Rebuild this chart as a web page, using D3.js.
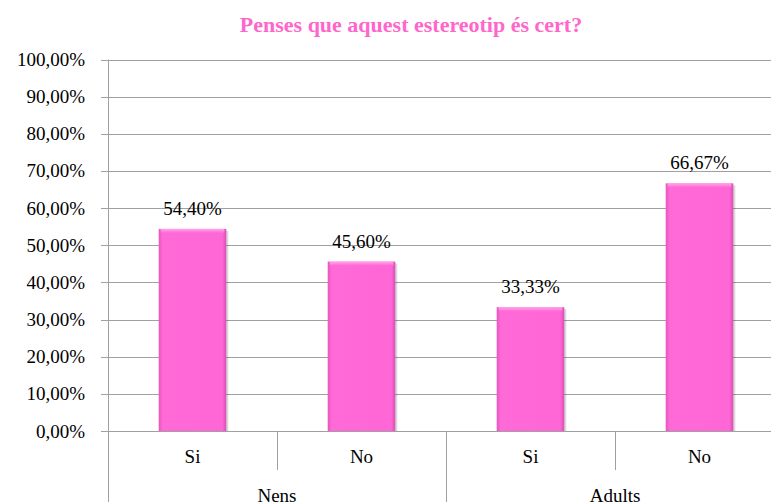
<!DOCTYPE html>
<html>
<head>
<meta charset="utf-8">
<script src="https://cdn.jsdelivr.net/npm/d3@7"></script>
</head>
<body style="margin:0">
<svg id="chart" width="771" height="502"></svg>
<script>
const title = "Penses que aquest estereotip és cert?";
const groups = ["Nens", "Adults"];
const answers = ["Si", "No"];
const values = [0.5440, 0.4560, 0.3333, 0.6667];
const valueLabels = ["54,40%", "45,60%", "33,33%", "66,67%"];
const yTicks = [0, 0.1, 0.2, 0.3, 0.4, 0.5, 0.6, 0.7, 0.8, 0.9, 1.0];
const yTickLabels = ["0,00%", "10,00%", "20,00%", "30,00%", "40,00%", "50,00%", "60,00%", "70,00%", "80,00%", "90,00%", "100,00%"];

const W = 771, H = 502;
const mLeft = 108, mRight = 784, mTop = 59.5, mBottom = 431;
const gridColor = "#a0a0a0";
const FONT = '"Liberation Serif"';

const svg = d3.select("#chart").style("font-family", FONT);
const defs = svg.append("defs");

const gH = defs.append("linearGradient").attr("id", "barH").attr("x1", 0).attr("x2", 1).attr("y1", 0).attr("y2", 0);
[[0, "#e655bd"], [0.06, "#ff6ad7"], [0.94, "#ff66d6"], [1, "#d94fb3"]].forEach(([o, c]) =>
  gH.append("stop").attr("offset", o).attr("stop-color", c));
const gV = defs.append("linearGradient").attr("id", "barTop").attr("x1", 0).attr("x2", 0).attr("y1", 0).attr("y2", 1);
[[0, "#ffa6ea"], [1, "#ff6ad7"]].forEach(([o, c]) =>
  gV.append("stop").attr("offset", o).attr("stop-color", c));

const keys = [];
groups.forEach(g => answers.forEach(a => keys.push(g + "|" + a)));

const x = d3.scaleBand().domain(keys).range([mLeft, mRight]).padding(0);
const xg = d3.scaleBand().domain(groups).range([mLeft, mRight]).padding(0);
const y = d3.scaleLinear().domain([0, 1]).range([mBottom, mTop]);
const barW = x.bandwidth() / 2.5;

svg.append("text")
  .attr("x", 411).attr("y", 32)
  .attr("text-anchor", "middle")
  .style("font-family", FONT)
  .style("font-weight", "bold").style("font-size", "22px")
  .attr("fill", "#ff66cc")
  .text(title);

svg.append("g").selectAll("line").data(yTicks).join("line")
  .attr("x1", mLeft - 7).attr("x2", mRight)
  .attr("y1", d => Math.round(y(d)) + 0.5).attr("y2", d => Math.round(y(d)) + 0.5)
  .attr("stroke", gridColor).attr("stroke-width", 1);

svg.append("line")
  .attr("x1", mLeft + 0.5).attr("x2", mLeft + 0.5)
  .attr("y1", mTop).attr("y2", H)
  .attr("stroke", gridColor);

svg.append("g").selectAll("text").data(yTicks).join("text")
  .attr("x", 85).attr("y", d => y(d) + 6.5)
  .attr("text-anchor", "end")
  .style("font-family", FONT).style("font-size", "19px")
  .attr("fill", "#000")
  .text((d, i) => yTickLabels[i]);

const divs = [];
keys.forEach((k, i) => { if (i > 0) divs.push({ x: x(k), full: i % answers.length === 0 }); });
divs.push({ x: mRight, full: true });
svg.append("g").selectAll("line").data(divs).join("line")
  .attr("x1", d => Math.round(d.x) + 0.5).attr("x2", d => Math.round(d.x) + 0.5)
  .attr("y1", mBottom).attr("y2", d => d.full ? H : 470)
  .attr("stroke", gridColor);

svg.append("g").selectAll("text").data(keys).join("text")
  .attr("x", d => x(d) + x.bandwidth() / 2).attr("y", 463)
  .attr("text-anchor", "middle")
  .style("font-family", FONT).style("font-size", "19px")
  .attr("fill", "#000")
  .text(d => d.split("|")[1]);

svg.append("g").selectAll("text").data(groups).join("text")
  .attr("x", d => xg(d) + xg.bandwidth() / 2).attr("y", 502)
  .attr("text-anchor", "middle")
  .style("font-family", FONT).style("font-size", "19px")
  .attr("fill", "#000")
  .text(d => d);

const bars = svg.append("g").selectAll("g").data(keys).join("g");
// soft shadow
bars.append("rect")
  .attr("x", d => x(d) + (x.bandwidth() - barW) / 2 + 2)
  .attr("y", (d, i) => y(values[i]) + 2)
  .attr("width", barW)
  .attr("height", (d, i) => mBottom - y(values[i]) - 2)
  .attr("fill", "#000").attr("opacity", 0.15);
bars.append("rect")
  .attr("x", d => x(d) + (x.bandwidth() - barW) / 2)
  .attr("y", (d, i) => y(values[i]))
  .attr("width", barW)
  .attr("height", (d, i) => mBottom - y(values[i]))
  .attr("fill", "url(#barH)");
bars.append("rect")
  .attr("x", d => x(d) + (x.bandwidth() - barW) / 2 + 2)
  .attr("y", (d, i) => y(values[i]))
  .attr("width", barW - 4)
  .attr("height", 4)
  .attr("fill", "url(#barTop)");

svg.append("g").selectAll("text").data(keys).join("text")
  .attr("x", d => x(d) + x.bandwidth() / 2)
  .attr("y", (d, i) => y(values[i]) - 14)
  .attr("text-anchor", "middle")
  .style("font-family", FONT).style("font-size", "19px")
  .attr("fill", "#000")
  .text((d, i) => valueLabels[i]);
</script>
</body>
</html>
